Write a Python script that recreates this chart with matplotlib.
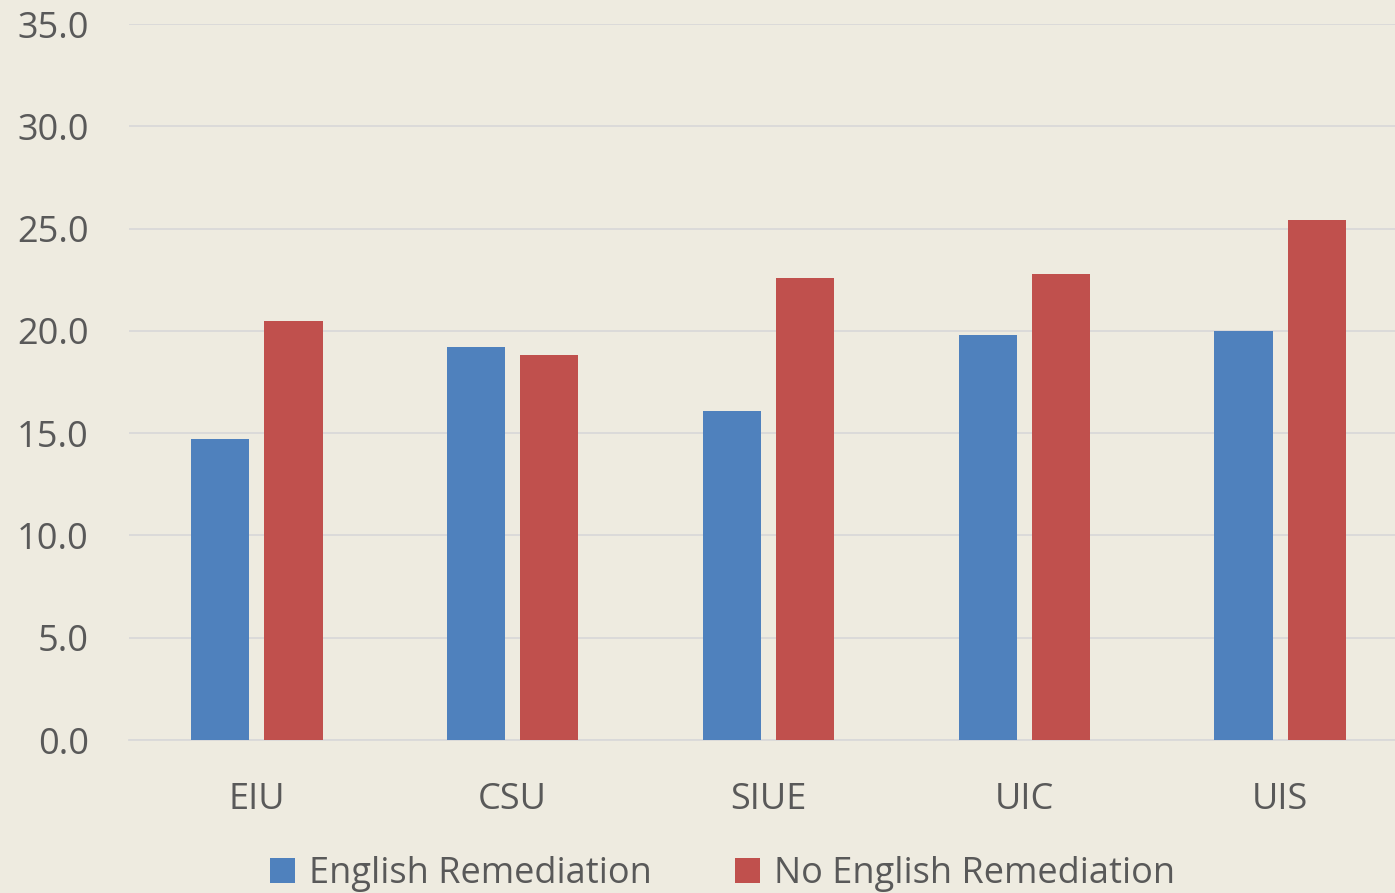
import matplotlib
matplotlib.use("Agg")
import matplotlib.pyplot as plt
import numpy as np

categories = ["EIU", "CSU", "SIUE", "UIC", "UIS"]
english_rem = [14.7, 19.2, 16.1, 19.8, 20.0]
no_english_rem = [20.5, 18.8, 22.6, 22.8, 25.4]
series_names = ["English Remediation", "No English Remediation"]
yticks = [0, 5, 10, 15, 20, 25, 30, 35]

plt.rcParams['font.family'] = ['Open Sans', 'DejaVu Sans']
bg = "#EEEBE0"
txt = "#595959"

fig = plt.figure(figsize=(13.95, 8.93), dpi=100, facecolor=bg)
ax = fig.add_axes([129/1395, 153/893, (1408 - 129)/1395, (740-24)/893])
ax.set_facecolor(bg)

x = np.arange(len(categories))
w = 0.227
ax.bar(x - 0.143, english_rem, w, color="#4F81BD", label=series_names[0], zorder=3)
ax.bar(x + 0.143, no_english_rem, w, color="#C0504D", label=series_names[1], zorder=3)

ax.set_xlim(-0.5, len(categories) - 0.5)
ax.set_ylim(0, 35)
ax.set_yticks(yticks)
ax.set_yticklabels([f"{v:.1f}" for v in yticks])
ax.set_xticks(x)
ax.set_xticklabels(categories)
ax.tick_params(axis='both', length=0, colors=txt, labelsize=26)
ax.tick_params(axis='y', pad=29)
ax.tick_params(axis='x', pad=30.5)
ax.grid(axis='y', color="#D9D9D9", linewidth=1.3, zorder=0)
for s in ["top", "right", "left"]:
    ax.spines[s].set_visible(False)
ax.spines["bottom"].set_color("#D9D9D9")
ax.spines["bottom"].set_linewidth(1.3)

leg = fig.legend(loc="center", bbox_to_anchor=(723/1395, 1 - 874/893), ncol=2,
                 frameon=False, fontsize=26, labelcolor=txt, handlelength=0.68,
                 handleheight=0.68, handletextpad=0.4, columnspacing=2.3)

fig.savefig("out.png", dpi=100, facecolor=bg)
